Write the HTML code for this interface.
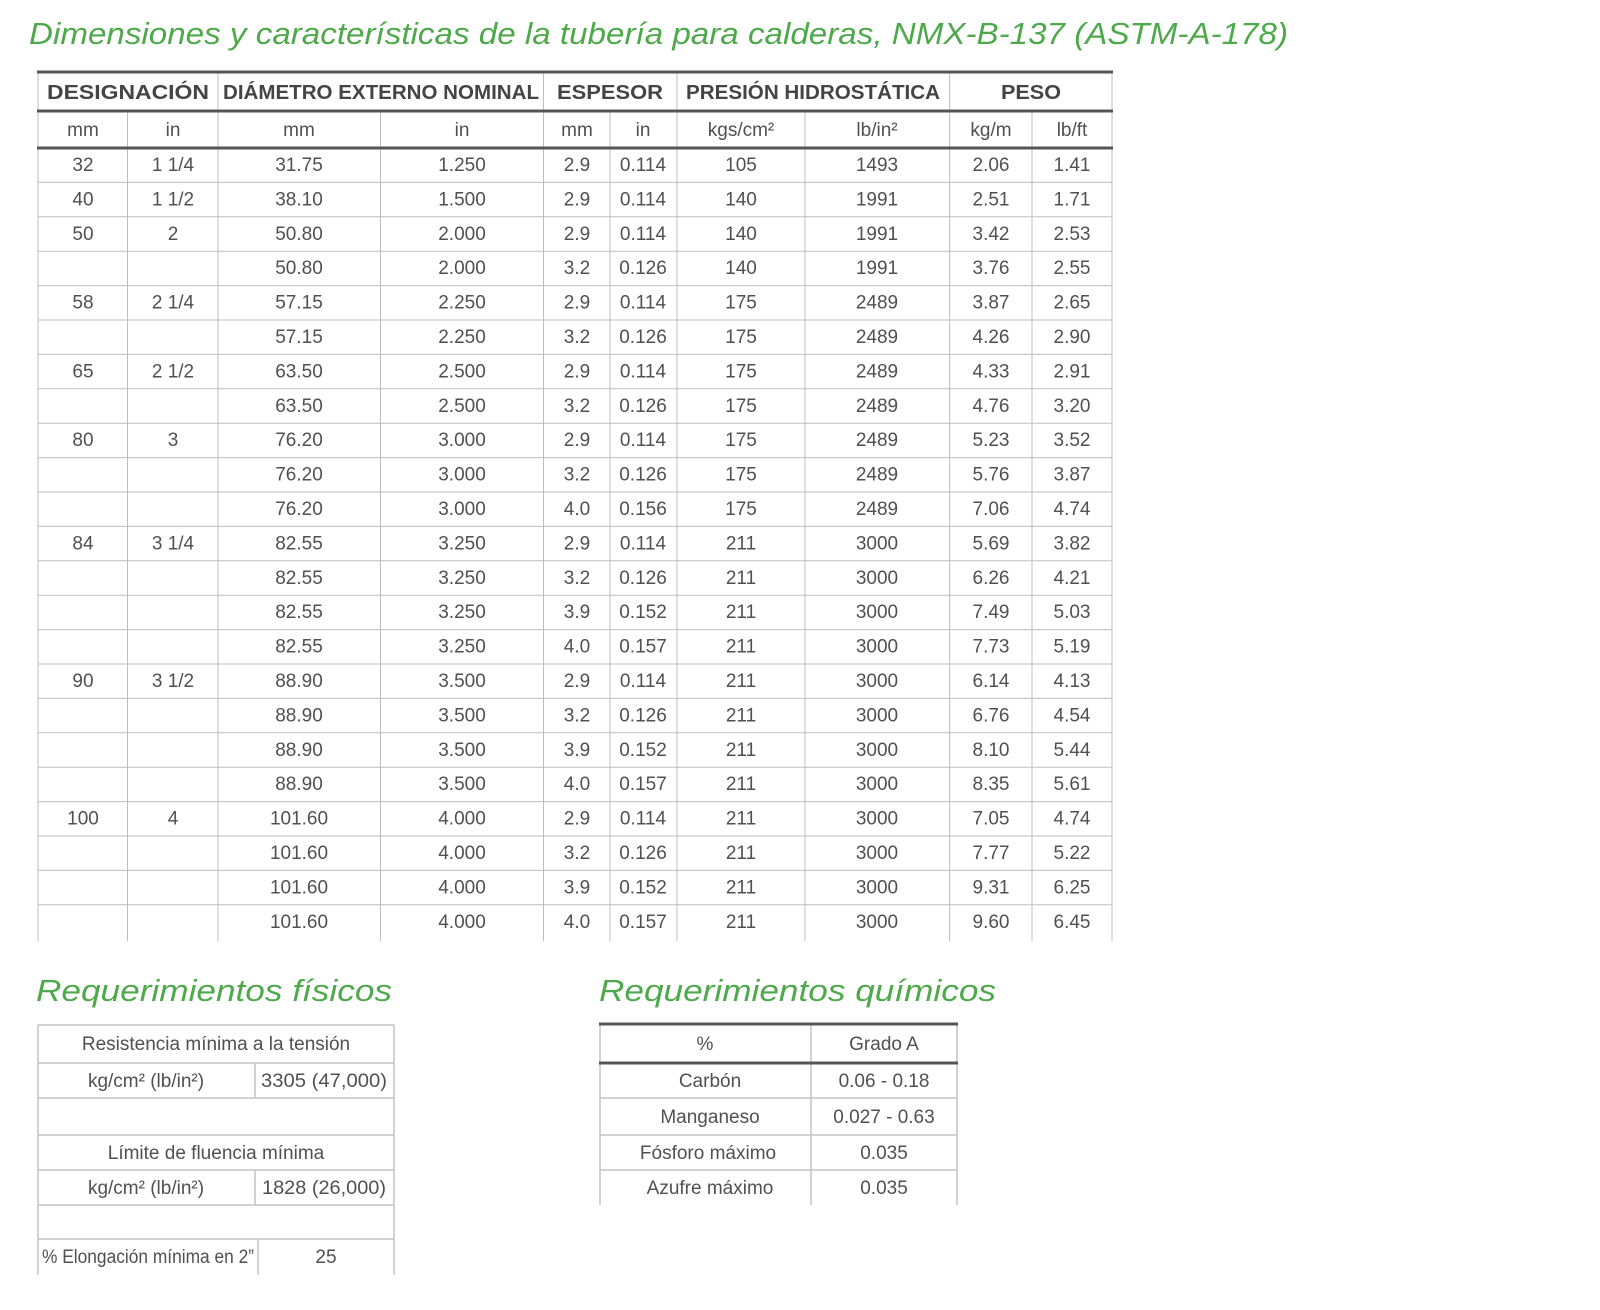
<!DOCTYPE html>
<html><head><meta charset="utf-8"><style>
html,body{margin:0;padding:0;background:#fff;}
svg{display:block;}
text{font-family:"Liberation Sans",sans-serif;fill:#505050;}
.t{fill:#4ea94b;font-style:italic;font-size:31px;}
.h{font-weight:bold;font-size:20px;fill:#444;}
.d{font-size:19px;}
</style></head><body>
<svg width="1600" height="1310" viewBox="0 0 1600 1310" xmlns="http://www.w3.org/2000/svg">
<text class="t" x="29" y="44" textLength="1259" lengthAdjust="spacingAndGlyphs">Dimensiones y características de la tubería para calderas, NMX-B-137 (ASTM-A-178)</text>

<g stroke="#bdbdbd" stroke-width="1" fill="none">
<path d="M38 72V941M218 72V941M543.5 72V941M677 72V941M949.6 72V941M1112 72V941M127.5 111V941M380.5 111V941M610 111V941M805 111V941M1032 111V941"/>
<path d="M38 182.4H1112M38 216.8H1112M38 251.2H1112M38 285.6H1112M38 320H1112M38 354.4H1112M38 388.8H1112M38 423.2H1112M38 457.6H1112M38 492H1112M38 526.4H1112M38 560.8H1112M38 595.2H1112M38 629.6H1112M38 664H1112M38 698.4H1112M38 732.8H1112M38 767.2H1112M38 801.6H1112M38 836H1112M38 870.4H1112M38 904.8H1112"/>
</g>
<g stroke="#555" stroke-width="3"><path d="M37 72H1113M37 111H1113M37 148H1113"/></g>

<g text-anchor="middle">
<text class="h" x="128" y="99" textLength="162" lengthAdjust="spacingAndGlyphs">DESIGNACIÓN</text>
<text class="h" x="381" y="99" textLength="316" lengthAdjust="spacingAndGlyphs">DIÁMETRO EXTERNO NOMINAL</text>
<text class="h" x="610" y="99" textLength="106" lengthAdjust="spacingAndGlyphs">ESPESOR</text>
<text class="h" x="813" y="99" textLength="254" lengthAdjust="spacingAndGlyphs">PRESIÓN HIDROSTÁTICA</text>
<text class="h" x="1031" y="99" textLength="60" lengthAdjust="spacingAndGlyphs">PESO</text>
<text x="83" y="136" class="d">mm</text><text x="173" y="136" class="d">in</text><text x="299" y="136" class="d">mm</text><text x="462" y="136" class="d">in</text><text x="577" y="136" class="d">mm</text><text x="643" y="136" class="d">in</text><text x="741" y="136" class="d">kgs/cm²</text><text x="877" y="136" class="d">lb/in²</text><text x="991" y="136" class="d">kg/m</text><text x="1072" y="136" class="d">lb/ft</text>
</g>

<g text-anchor="middle" font-size="19">
<g transform="translate(0,171)"><text x="83">32</text><text x="173">1 1/4</text><text x="299">31.75</text><text x="462">1.250</text><text x="577">2.9</text><text x="643">0.114</text><text x="741">105</text><text x="877">1493</text><text x="991">2.06</text><text x="1072">1.41</text></g>
<g transform="translate(0,205.4)"><text x="83">40</text><text x="173">1 1/2</text><text x="299">38.10</text><text x="462">1.500</text><text x="577">2.9</text><text x="643">0.114</text><text x="741">140</text><text x="877">1991</text><text x="991">2.51</text><text x="1072">1.71</text></g>
<g transform="translate(0,239.8)"><text x="83">50</text><text x="173">2</text><text x="299">50.80</text><text x="462">2.000</text><text x="577">2.9</text><text x="643">0.114</text><text x="741">140</text><text x="877">1991</text><text x="991">3.42</text><text x="1072">2.53</text></g>
<g transform="translate(0,274.2)"><text x="299">50.80</text><text x="462">2.000</text><text x="577">3.2</text><text x="643">0.126</text><text x="741">140</text><text x="877">1991</text><text x="991">3.76</text><text x="1072">2.55</text></g>
<g transform="translate(0,308.6)"><text x="83">58</text><text x="173">2 1/4</text><text x="299">57.15</text><text x="462">2.250</text><text x="577">2.9</text><text x="643">0.114</text><text x="741">175</text><text x="877">2489</text><text x="991">3.87</text><text x="1072">2.65</text></g>
<g transform="translate(0,343)"><text x="299">57.15</text><text x="462">2.250</text><text x="577">3.2</text><text x="643">0.126</text><text x="741">175</text><text x="877">2489</text><text x="991">4.26</text><text x="1072">2.90</text></g>
<g transform="translate(0,377.4)"><text x="83">65</text><text x="173">2 1/2</text><text x="299">63.50</text><text x="462">2.500</text><text x="577">2.9</text><text x="643">0.114</text><text x="741">175</text><text x="877">2489</text><text x="991">4.33</text><text x="1072">2.91</text></g>
<g transform="translate(0,411.8)"><text x="299">63.50</text><text x="462">2.500</text><text x="577">3.2</text><text x="643">0.126</text><text x="741">175</text><text x="877">2489</text><text x="991">4.76</text><text x="1072">3.20</text></g>
<g transform="translate(0,446.2)"><text x="83">80</text><text x="173">3</text><text x="299">76.20</text><text x="462">3.000</text><text x="577">2.9</text><text x="643">0.114</text><text x="741">175</text><text x="877">2489</text><text x="991">5.23</text><text x="1072">3.52</text></g>
<g transform="translate(0,480.6)"><text x="299">76.20</text><text x="462">3.000</text><text x="577">3.2</text><text x="643">0.126</text><text x="741">175</text><text x="877">2489</text><text x="991">5.76</text><text x="1072">3.87</text></g>
<g transform="translate(0,515)"><text x="299">76.20</text><text x="462">3.000</text><text x="577">4.0</text><text x="643">0.156</text><text x="741">175</text><text x="877">2489</text><text x="991">7.06</text><text x="1072">4.74</text></g>
<g transform="translate(0,549.4)"><text x="83">84</text><text x="173">3 1/4</text><text x="299">82.55</text><text x="462">3.250</text><text x="577">2.9</text><text x="643">0.114</text><text x="741">211</text><text x="877">3000</text><text x="991">5.69</text><text x="1072">3.82</text></g>
<g transform="translate(0,583.8)"><text x="299">82.55</text><text x="462">3.250</text><text x="577">3.2</text><text x="643">0.126</text><text x="741">211</text><text x="877">3000</text><text x="991">6.26</text><text x="1072">4.21</text></g>
<g transform="translate(0,618.2)"><text x="299">82.55</text><text x="462">3.250</text><text x="577">3.9</text><text x="643">0.152</text><text x="741">211</text><text x="877">3000</text><text x="991">7.49</text><text x="1072">5.03</text></g>
<g transform="translate(0,652.6)"><text x="299">82.55</text><text x="462">3.250</text><text x="577">4.0</text><text x="643">0.157</text><text x="741">211</text><text x="877">3000</text><text x="991">7.73</text><text x="1072">5.19</text></g>
<g transform="translate(0,687)"><text x="83">90</text><text x="173">3 1/2</text><text x="299">88.90</text><text x="462">3.500</text><text x="577">2.9</text><text x="643">0.114</text><text x="741">211</text><text x="877">3000</text><text x="991">6.14</text><text x="1072">4.13</text></g>
<g transform="translate(0,721.4)"><text x="299">88.90</text><text x="462">3.500</text><text x="577">3.2</text><text x="643">0.126</text><text x="741">211</text><text x="877">3000</text><text x="991">6.76</text><text x="1072">4.54</text></g>
<g transform="translate(0,755.8)"><text x="299">88.90</text><text x="462">3.500</text><text x="577">3.9</text><text x="643">0.152</text><text x="741">211</text><text x="877">3000</text><text x="991">8.10</text><text x="1072">5.44</text></g>
<g transform="translate(0,790.2)"><text x="299">88.90</text><text x="462">3.500</text><text x="577">4.0</text><text x="643">0.157</text><text x="741">211</text><text x="877">3000</text><text x="991">8.35</text><text x="1072">5.61</text></g>
<g transform="translate(0,824.6)"><text x="83">100</text><text x="173">4</text><text x="299">101.60</text><text x="462">4.000</text><text x="577">2.9</text><text x="643">0.114</text><text x="741">211</text><text x="877">3000</text><text x="991">7.05</text><text x="1072">4.74</text></g>
<g transform="translate(0,859)"><text x="299">101.60</text><text x="462">4.000</text><text x="577">3.2</text><text x="643">0.126</text><text x="741">211</text><text x="877">3000</text><text x="991">7.77</text><text x="1072">5.22</text></g>
<g transform="translate(0,893.4)"><text x="299">101.60</text><text x="462">4.000</text><text x="577">3.9</text><text x="643">0.152</text><text x="741">211</text><text x="877">3000</text><text x="991">9.31</text><text x="1072">6.25</text></g>
<g transform="translate(0,927.8)"><text x="299">101.60</text><text x="462">4.000</text><text x="577">4.0</text><text x="643">0.157</text><text x="741">211</text><text x="877">3000</text><text x="991">9.60</text><text x="1072">6.45</text></g>
</g>

<text class="t" x="36" y="1001" textLength="356" lengthAdjust="spacingAndGlyphs">Requerimientos físicos</text>
<text class="t" x="599" y="1001" textLength="397" lengthAdjust="spacingAndGlyphs">Requerimientos químicos</text>

<g stroke="#c4c4c4" stroke-width="1.5" fill="none">
<path d="M38 1025V1275M394 1025V1275M255 1063V1098M255 1170V1205M258 1239V1275"/>
<path d="M38 1025H394M38 1063H394M38 1098H394M38 1135H394M38 1170H394M38 1205H394M38 1239H394"/>
<path d="M600 1024V1205M811 1024V1205M957 1024V1205M600 1098H957M600 1135H957M600 1170H957"/>
</g>
<g stroke="#555" stroke-width="3"><path d="M599 1024H958M599 1063H958"/></g>

<g text-anchor="middle" font-size="19">
<text x="216" y="1050">Resistencia mínima a la tensión</text>
<text x="146" y="1087">kg/cm² (lb/in²)</text>
<text x="324" y="1087" textLength="126" lengthAdjust="spacingAndGlyphs">3305 (47,000)</text>
<text x="216" y="1159">Límite de fluencia mínima</text>
<text x="146" y="1194">kg/cm² (lb/in²)</text>
<text x="324" y="1194" textLength="124" lengthAdjust="spacingAndGlyphs">1828 (26,000)</text>
<text x="148" y="1263" textLength="212" lengthAdjust="spacingAndGlyphs">% Elongación mínima en 2”</text>
<text x="326" y="1263">25</text>
<text x="705" y="1050">%</text>
<text x="884" y="1050">Grado A</text>
<text x="710" y="1087">Carbón</text>
<text x="884" y="1087">0.06 - 0.18</text>
<text x="710" y="1123">Manganeso</text>
<text x="884" y="1123">0.027 - 0.63</text>
<text x="708" y="1159">Fósforo máximo</text>
<text x="884" y="1159">0.035</text>
<text x="710" y="1194">Azufre máximo</text>
<text x="884" y="1194">0.035</text>
</g>
</svg>
</body></html>
